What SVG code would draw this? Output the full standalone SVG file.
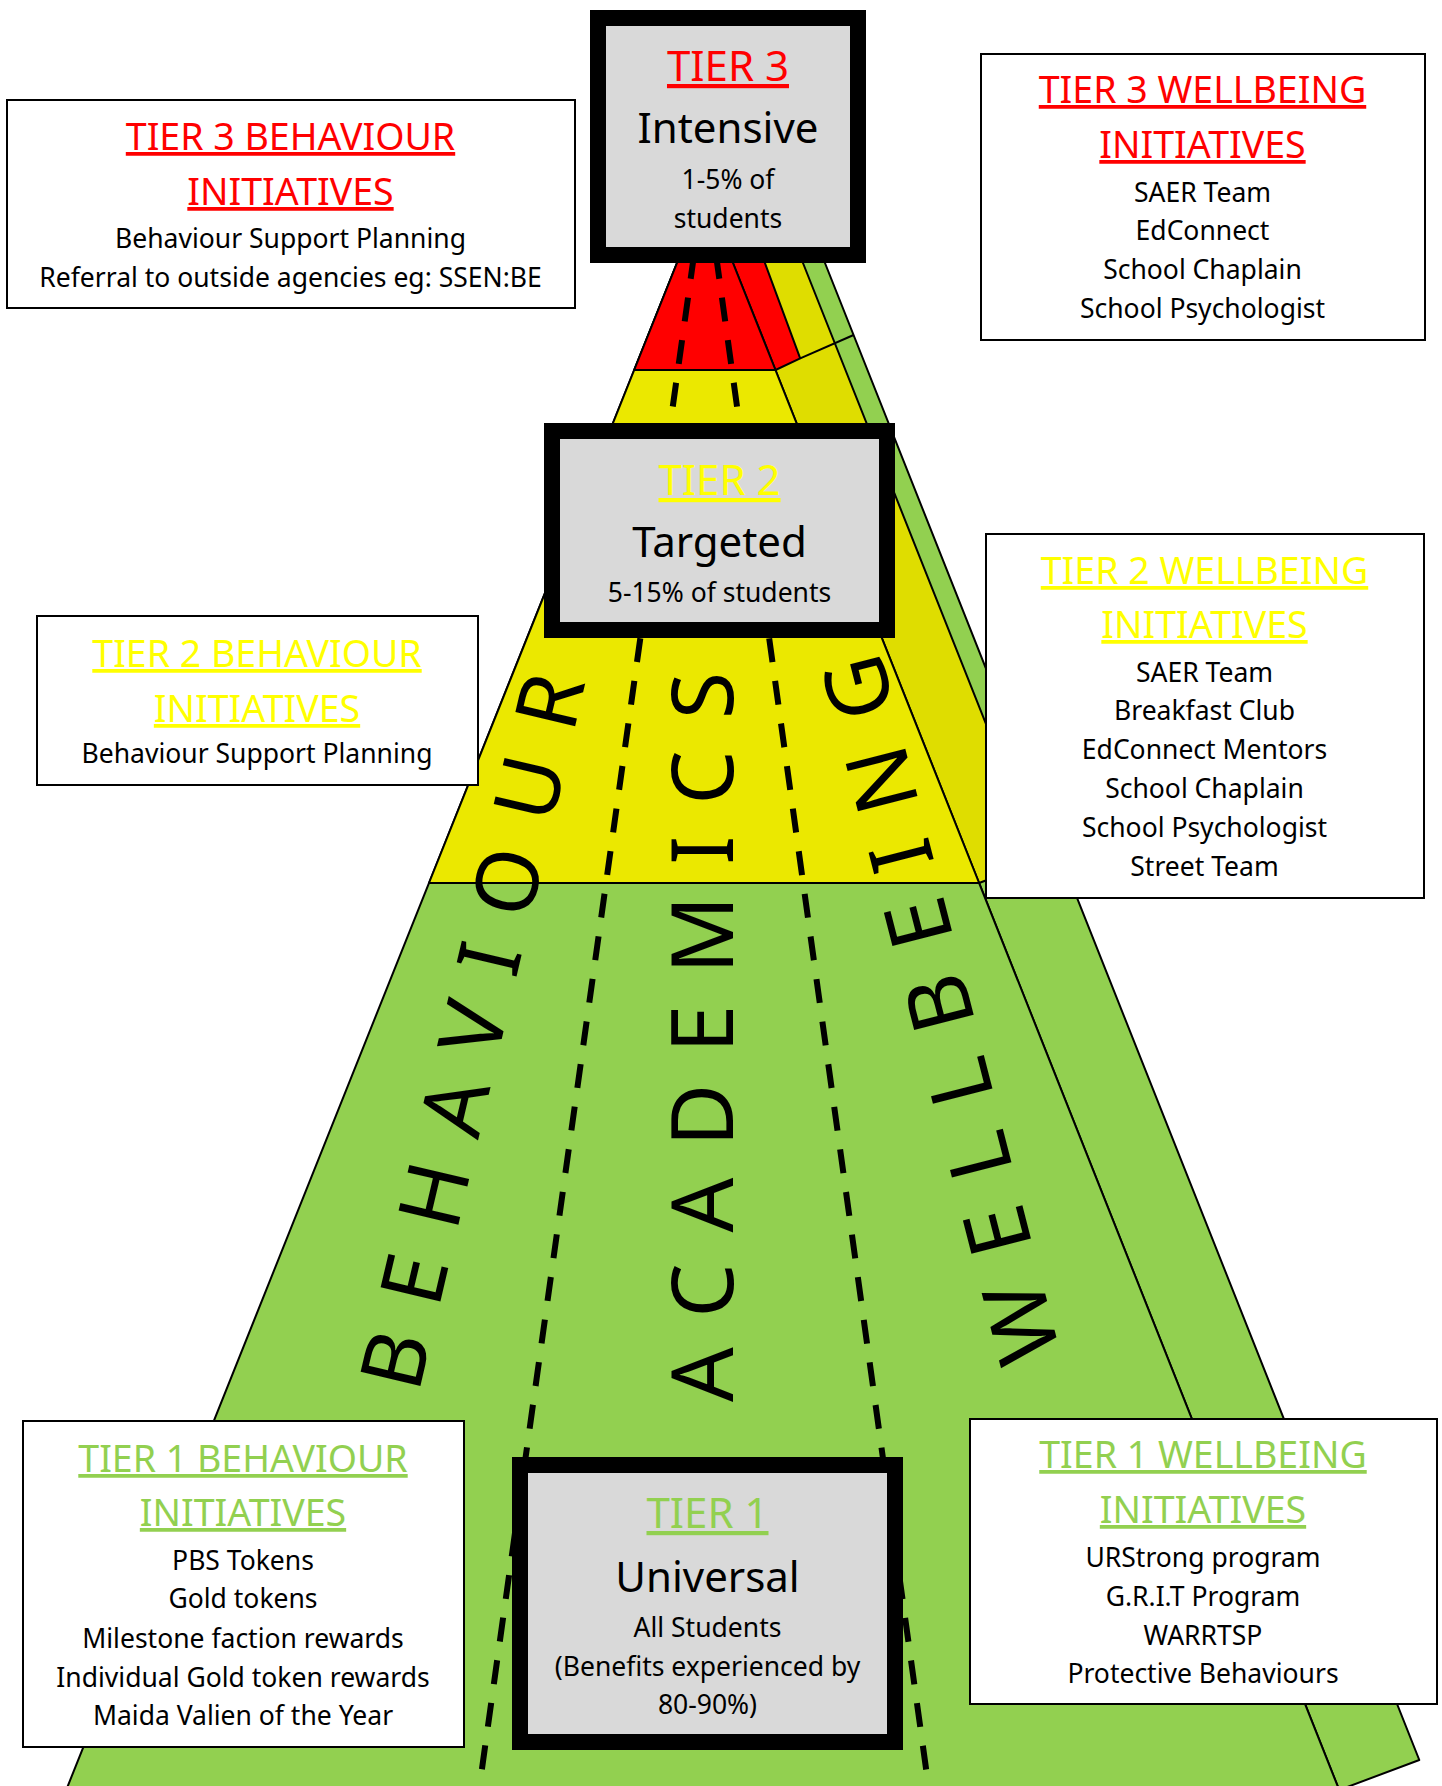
<svg xmlns="http://www.w3.org/2000/svg" width="1442" height="1786" viewBox="0 0 1442 1786">
  <style>
    .t { font-family: "Noto Sans", "Open Sans", "DejaVu Sans", sans-serif; text-anchor: middle; }
    .body { font-size: 26.5px; fill: #000; }
    .head { font-size: 37.5px; text-decoration: underline; text-decoration-thickness: 3px; text-underline-offset: 3px; }
    .thead { font-size: 42px; text-decoration: underline; text-decoration-thickness: 3px; text-underline-offset: 4px; }
    .level { font-size: 42px; fill: #000; }
    .red { fill: #ff0000; }
    .yel { fill: #ffff00; }
    .grn { fill: #92d050; }
    .big { font-family: "Noto Sans", "Open Sans", "DejaVu Sans", sans-serif; font-size: 86px; fill: #000; letter-spacing: 31px; }
    .box { fill: #ffffff; stroke: #000; stroke-width: 2; }
    .tier { fill: #d9d9d9; stroke: #000; stroke-width: 16; }
    .face { stroke: #000; stroke-width: 2; stroke-linejoin: round; }
    .dash { stroke: #000; stroke-width: 6; stroke-dasharray: 24 19; fill: none; }
  </style>

  <!-- pyramid faces -->
  <g id="pyramid">
    <polygon class="face" fill="#92d050" points="729.8,255 821.8,255 1419.3,1760 1339.2,1790"/>
    <polygon class="face" fill="#92d050" points="680.2,255 729.8,255 1339.2,1790 66.2,1790"/>
    <polygon class="face" fill="#dfdd00" points="729.8,255 799.8,255 1040,860 979.1,883"/>
    <polygon class="face" fill="#ebe800" points="680.2,255 729.8,255 979.1,883 429,883"/>
    <polygon class="face" fill="#ff0000" points="729.8,255 762,255 800.2,358.4 775.5,370"/>
    <polygon class="face" fill="#ff0000" points="680.2,255 729.8,255 775.5,370 634.2,370"/>
    <line class="face" x1="800.2" y1="358.4" x2="853.6" y2="335"/>
  </g>

  <!-- column dividers -->
  <g id="connectors">
    <line class="dash" x1="694" y1="255" x2="479" y2="1790"/>
    <line class="dash" x1="716" y1="255" x2="929" y2="1790"/>
  </g>

  <!-- column labels -->
  <g id="column-labels">
    <text class="big" transform="translate(395,1360) rotate(-76.8)" x="-27.8" y="30.7">BEHAVIOUR</text>
    <text class="big" transform="translate(702.5,1374.5) rotate(-90)" x="-27.5" y="30.7">ACADEMICS</text>
    <text class="big" transform="translate(1021,1323) rotate(-104.4)" x="-39.9" y="30.7">WELLBEING</text>
  </g>

  <!-- tier boxes -->
  <g id="tier3">
    <rect class="tier" x="598" y="18" width="260" height="237"/>
    <text class="t thead red" x="728" y="81">TIER 3</text>
    <text class="t level" x="728" y="143">Intensive</text>
    <text class="t body" x="728" y="189">1-5% of</text>
    <text class="t body" x="728" y="228">students</text>
  </g>
  <g id="tier2">
    <rect class="tier" x="552" y="431" width="335" height="199"/>
    <text class="t thead yel" x="719.5" y="495">TIER 2</text>
    <text class="t level" x="719.5" y="557">Targeted</text>
    <text class="t body" x="719.5" y="602">5-15% of students</text>
  </g>
  <g id="tier1">
    <rect class="tier" x="520" y="1465" width="375" height="277"/>
    <text class="t thead grn" x="707.5" y="1528">TIER 1</text>
    <text class="t level" x="707.5" y="1592">Universal</text>
    <text class="t body" x="707.5" y="1637">All Students</text>
    <text class="t body" x="707.5" y="1676">(Benefits experienced by</text>
    <text class="t body" x="707.5" y="1714">80-90%)</text>
  </g>

  <!-- initiative boxes -->
  <g id="t3-behaviour">
    <rect class="box" x="7" y="100" width="568" height="208"/>
    <text class="t head red" x="290.5" y="150">TIER 3 BEHAVIOUR</text>
    <text class="t head red" x="290.5" y="205">INITIATIVES</text>
    <text class="t body" x="290.5" y="248">Behaviour Support Planning</text>
    <text class="t body" x="290.5" y="287">Referral to outside agencies eg: SSEN:BE</text>
  </g>
  <g id="t3-wellbeing">
    <rect class="box" x="981" y="54" width="444" height="286"/>
    <text class="t head red" x="1202.5" y="103">TIER 3 WELLBEING</text>
    <text class="t head red" x="1202.5" y="158">INITIATIVES</text>
    <text class="t body" x="1202.5" y="202">SAER Team</text>
    <text class="t body" x="1202.5" y="240">EdConnect</text>
    <text class="t body" x="1202.5" y="279">School Chaplain</text>
    <text class="t body" x="1202.5" y="318">School Psychologist</text>
  </g>
  <g id="t2-behaviour">
    <rect class="box" x="37" y="616" width="441" height="169"/>
    <text class="t head yel" x="257" y="667">TIER 2 BEHAVIOUR</text>
    <text class="t head yel" x="257" y="722">INITIATIVES</text>
    <text class="t body" x="257" y="763">Behaviour Support Planning</text>
  </g>
  <g id="t2-wellbeing">
    <rect class="box" x="986" y="534" width="438" height="364"/>
    <text class="t head yel" x="1204.5" y="584">TIER 2 WELLBEING</text>
    <text class="t head yel" x="1204.5" y="638">INITIATIVES</text>
    <text class="t body" x="1204.5" y="682">SAER Team</text>
    <text class="t body" x="1204.5" y="720">Breakfast Club</text>
    <text class="t body" x="1204.5" y="759">EdConnect Mentors</text>
    <text class="t body" x="1204.5" y="798">School Chaplain</text>
    <text class="t body" x="1204.5" y="837">School Psychologist</text>
    <text class="t body" x="1204.5" y="876">Street Team</text>
  </g>
  <g id="t1-behaviour">
    <rect class="box" x="23" y="1421" width="441" height="326"/>
    <text class="t head grn" x="243" y="1472">TIER 1 BEHAVIOUR</text>
    <text class="t head grn" x="243" y="1526">INITIATIVES</text>
    <text class="t body" x="243" y="1570">PBS Tokens</text>
    <text class="t body" x="243" y="1608">Gold tokens</text>
    <text class="t body" x="243" y="1648">Milestone faction rewards</text>
    <text class="t body" x="243" y="1687">Individual Gold token rewards</text>
    <text class="t body" x="243" y="1725">Maida Valien of the Year</text>
  </g>
  <g id="t1-wellbeing">
    <rect class="box" x="970" y="1419" width="467" height="285"/>
    <text class="t head grn" x="1203" y="1468">TIER 1 WELLBEING</text>
    <text class="t head grn" x="1203" y="1523">INITIATIVES</text>
    <text class="t body" x="1203" y="1567">URStrong program</text>
    <text class="t body" x="1203" y="1606">G.R.I.T Program</text>
    <text class="t body" x="1203" y="1645">WARRTSP</text>
    <text class="t body" x="1203" y="1683">Protective Behaviours</text>
  </g>
</svg>
